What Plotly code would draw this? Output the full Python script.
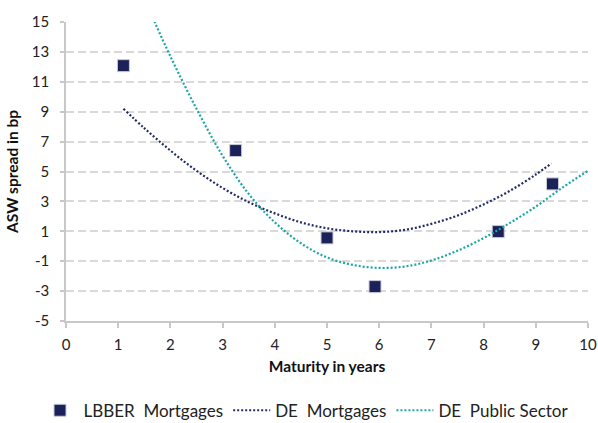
import plotly.graph_objects as go

# LBBER Mortgages (scatter points)
lbber_x = [1.1, 3.25, 5.0, 5.92, 8.28, 9.32]
lbber_y = [12.08, 6.4, 0.56, -2.7, 0.98, 4.17]

# DE Mortgages trend
de_mort_x = [1.1, 1.5, 2.0, 2.5, 3.0, 3.5, 4.0, 4.5, 5.0, 5.5, 6.0, 6.5, 7.0, 7.5, 8.0, 8.5, 9.0, 9.3]
de_mort_y = [9.2, 7.9, 6.4, 5.05, 3.9, 2.95, 2.2, 1.6, 1.2, 1.0, 0.95, 1.1, 1.5, 2.05, 2.8, 3.7, 4.8, 5.55]

# DE Public Sector trend
de_pub_x = [1.66, 2.0, 2.5, 3.0, 3.5, 4.0, 4.5, 5.0, 5.5, 6.0, 6.5, 7.0, 7.5, 8.0, 8.5, 9.0, 9.5, 10.0]
de_pub_y = [15.3, 12.7, 9.2, 6.05, 3.5, 1.6, 0.2, -0.75, -1.25, -1.45, -1.35, -0.95, -0.3, 0.55, 1.55, 2.65, 3.9, 5.05]

x_ticks = list(range(0, 11))
y_ticks = list(range(-5, 16, 2))

FONT = "Lato, 'Open Sans', sans-serif"
NAVY = "#1c2259"
NAVY_LINE = "#232d63"
TEAL = "#1aa5a8"
GRID = "#d9d9d9"
AXIS = "#c8c8c8"

fig = go.Figure()
fig.add_trace(go.Scatter(
    x=lbber_x, y=lbber_y, mode="markers", name="LBBER  Mortgages",
    marker=dict(symbol="square", size=12, color=NAVY,
                line=dict(color="#c9cbd8", width=1)),
))
fig.add_trace(go.Scatter(
    x=de_mort_x, y=de_mort_y, mode="lines", name="DE  Mortgages",
    line=dict(color=NAVY_LINE, width=2.2, dash="2px,2px", shape="spline", smoothing=1),
))
fig.add_trace(go.Scatter(
    x=de_pub_x, y=de_pub_y, mode="lines", name="DE  Public Sector",
    line=dict(color=TEAL, width=2.2, dash="2px,2px", shape="spline", smoothing=1),
))

fig.update_layout(
    width=598, height=423,
    margin=dict(l=66, r=10, t=22, b=101.5, autoexpand=False),
    paper_bgcolor="white", plot_bgcolor="white",
    font=dict(family=FONT, size=15, color="#222222"),
    showlegend=True,
    legend=dict(orientation="h", x=-0.0565, xanchor="left", y=-0.300, yanchor="middle",
                font=dict(size=17, color="#222222"), itemwidth=37,
                bgcolor="rgba(0,0,0,0)"),
    xaxis=dict(
        range=[0, 10], tickmode="array", tickvals=x_ticks, ticktext=[str(v) for v in x_ticks],
        showgrid=False, zeroline=False, automargin=False,
        showline=True, linecolor=AXIS, linewidth=1.5,
        ticks="outside", ticklen=5, tickcolor=AXIS, tickwidth=1.5,
        ticklabelstandoff=4,
        title=dict(text="<b>Maturity in years</b>", font=dict(size=15.5, color="#111111"), standoff=9),
    ),
    yaxis=dict(
        range=[-5, 15], tickmode="array", tickvals=y_ticks, ticktext=[str(v) for v in y_ticks],
        showgrid=True, gridcolor=GRID, gridwidth=1.5, griddash="8px,4px",
        zeroline=False, automargin=False,
        showline=True, linecolor=AXIS, linewidth=1.5,
        ticks="outside", ticklen=4, tickcolor=AXIS, tickwidth=1.5,
        ticklabelstandoff=8,
        title=dict(text="<b>ASW spread in bp</b>", font=dict(size=15.5, color="#111111"), standoff=9),
    ),
)

fig.write_html("out.html")
